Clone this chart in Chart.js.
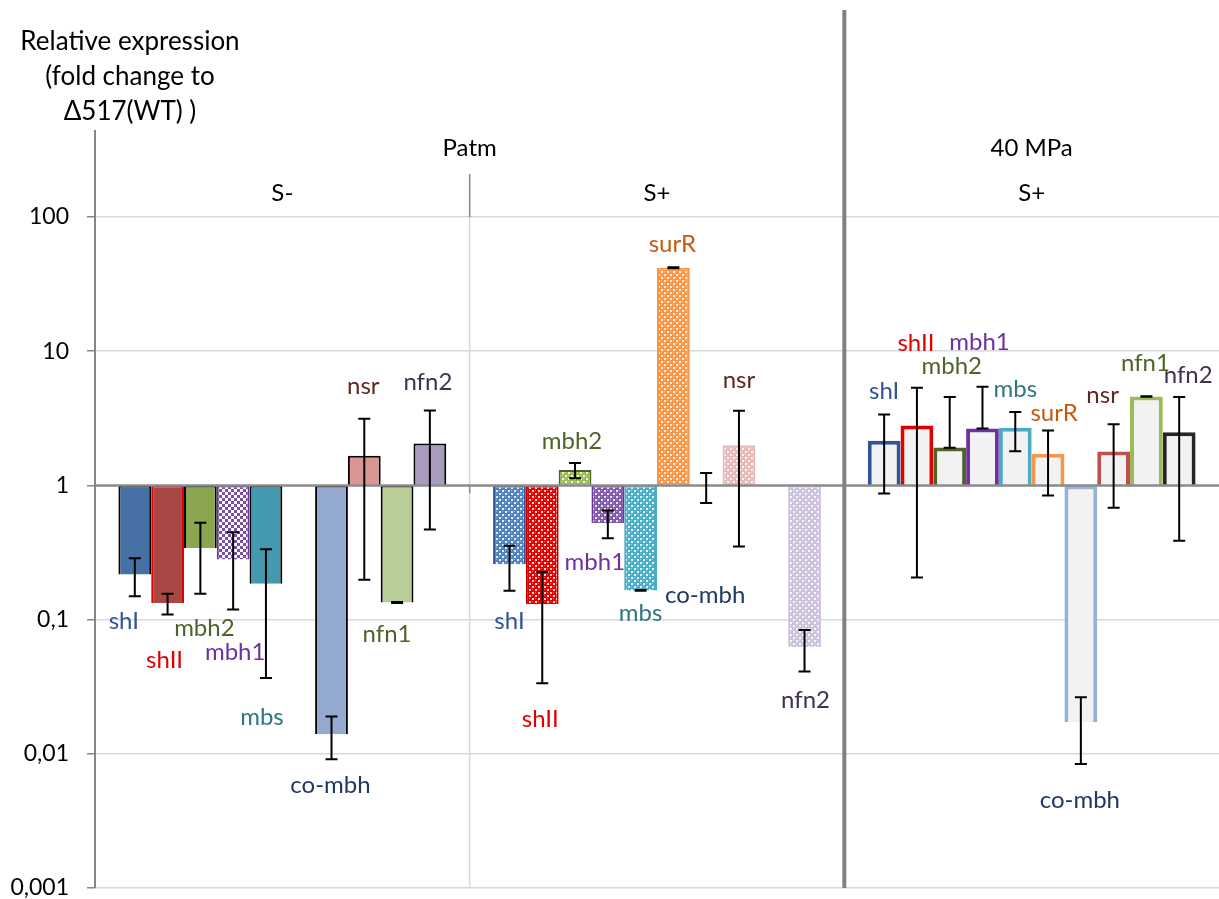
<!DOCTYPE html>
<html lang="en">
<head>
    <meta charset="UTF-8">
    <title>Relative expression</title>
    <script src="https://cdn.jsdelivr.net/npm/chart.js"></script>
    <style>
        body { margin: 0; background: #ffffff; }
        #wrap { width: 1219px; height: 899px; }
    </style>
</head>
<body>
    <div id="wrap"><canvas id="grafico" width="1219" height="899"></canvas></div>

    <script>
        // categories
        const genes = ['shI', 'shII', 'mbh2', 'mbh1', 'mbs', 'surR', 'co-mbh', 'nsr', 'nfn1', 'nfn2'];
        const groups = ['S-', 'S+', 'S+'];
        const pressures = ['Patm', '40 MPa'];
        const titleLines = ['Relative expression', '(fold change to', '\u0394517(WT) )'];

        // fold change values (one entry per gene)
        const patmSminus   = [0.217, 0.133, 0.341, 0.281, 0.185, null, 0.0140, 1.66, 0.134, 2.05];
        const patmSminusLo = [0.149, 0.109, 0.156, 0.119, 0.0367, null, 0.0091, 0.198, 0.133, 0.47];
        const patmSminusHi = [0.287, 0.156, 0.527, 0.447, 0.334, null, 0.019, 3.14, 0.135, 3.62];

        const patmSplus   = [0.259, 0.130, 1.30, 0.524, 0.165, 41.9, 1.0, 1.99, null, 0.0624];
        const patmSplusLo = [0.164, 0.0336, 1.13, 0.403, 0.164, 41.5, 0.738, 0.351, null, 0.0411];
        const patmSplusHi = [0.355, 0.226, 1.47, 0.651, 0.166, 42.3, 1.235, 3.60, null, 0.0835];

        const mpa40Splus   = [2.15, 2.79, 1.92, 2.66, 2.69, 1.72, 0.0172, 1.79, 4.60, 2.49];
        const mpa40SplusLo = [0.872, 0.206, 1.91, 2.65, 1.80, 0.842, 0.0084, 0.682, 4.58, 0.387];
        const mpa40SplusHi = [3.38, 5.35, 4.55, 5.44, 3.52, 2.56, 0.0264, 2.85, 4.62, 4.55];

        // y axis ticks
        const yTickValues = [100, 10, 1, 0.1, 0.01, 0.001];
        const yTickLabels = ['100', '10', '1', '0,1', '0,01', '0,001'];

        // styles
        const FONT = 'Lato, "Open Sans", sans-serif';
        const labelColors = ['#2f5597', '#e00000', '#4f6228', '#7030a0', '#2f7585', '#c55a11', '#1f3864', '#632523', '#4f6228', '#403152'];
        const sMinusFill = ['#4571a4', '#a94744', '#8aa64e', 'CHECK:#7a4fa8', '#4499ae', '#f79646', '#93a9d0', '#d99694', '#b9cd96', '#a99bbd'];
        const sMinusBorder = ['#000000', '#e00000', '#000000', '#7030a0', '#000000', '#000000', '#000000', '#000000', '#000000', '#000000'];
        const sPlusFill = ['#4f81bd', '#e00000', '#9bbb59', '#7f5aa8', '#4bacc6', '#f79646', '#95b3d7', '#e6b9b8', '#9bbb59', '#ccc1da'];
        const sPlusBorder = ['#2f5597', '#c00000', '#4f6228', '#7030a0', '#4bacc6', '#f79646', '#95b3d7', '#e6b9b8', '#9bbb59', '#ccc1da'];
        const mpaBorder = ['#2f5597', '#e00000', '#4f6228', '#7030a0', '#4bacc6', '#f79646', '#95b3d7', '#c0504d', '#9bbb59', '#262626'];

        // label nudges [dx, dy] from the error bar end, per group
        const labelNudge = [
            [[-11, 25], [-3, 46], [4, 35], [2, 43], [-4, 39], null, [-1, 26], [-1, -32], [-10, 31], [-2, -28]],
            [[0, 30], [-2, 36], [-3, -22], [-13, 24], [0, 22], [-1, -23], [-1, 92], [0, -30], null, [1, 29]],
            [[0, -23], [-1, -44], [2, -31], [-3, -44], [0, -23], [6, -17], [-1, 36], [-11, -29], [-1, -33], [9, -22]]
        ];

        function padrao(cor) {
            let c = document.createElement('canvas');
            c.width = 6; c.height = 6;
            let g = c.getContext('2d');
            g.fillStyle = cor; g.fillRect(0, 0, 6, 6);
            g.fillStyle = 'rgba(255,255,255,0.85)';
            g.fillRect(1, 1, 2, 2); g.fillRect(4, 4, 2, 2);
            g.fillStyle = 'rgba(255,255,255,0.45)';
            g.fillRect(4, 1, 1, 1); g.fillRect(1, 4, 1, 1);
            return g.createPattern(c, 'repeat');
        }

        function xadrez(cor) {
            let c = document.createElement('canvas');
            c.width = 6; c.height = 6;
            let g = c.getContext('2d');
            g.fillStyle = '#ffffff'; g.fillRect(0, 0, 6, 6);
            g.fillStyle = cor;
            g.fillRect(0, 0, 3, 3); g.fillRect(3, 3, 3, 3);
            return g.createPattern(c, 'repeat');
        }

        function fillSminus(i) {
            let f = sMinusFill[i];
            return f.startsWith('CHECK:') ? xadrez(f.slice(6)) : f;
        }

        const values = [patmSminus, patmSplus, mpa40Splus];
        const lows = [patmSminusLo, patmSplusLo, mpa40SplusLo];
        const highs = [patmSminusHi, patmSplusHi, mpa40SplusHi];

        let datasets = genes.map((gene, i) => ({
            label: gene,
            data: values.map(v => v[i] === null ? null : [1, v[i]]),
            backgroundColor: [fillSminus(i), padrao(sPlusFill[i]), '#f2f2f2'],
            borderColor: [sMinusBorder[i], sPlusBorder[i], mpaBorder[i]],
            borderWidth: [2, 2, 4],
            borderSkipped: 'start',
            categoryPercentage: 0.875,
            barPercentage: 1.0
        }));

        const decor = {
            id: 'decor',
            beforeDatasetsDraw(chart) {
                let ctx = chart.ctx, area = chart.chartArea, x = chart.scales.x;
                ctx.save();
                ctx.strokeStyle = '#d9d9d9';
                ctx.lineWidth = 1.5;
                for (let k = 0; k < groups.length - 1; k++) {
                    let b = (x.getPixelForValue(k) + x.getPixelForValue(k + 1)) / 2;
                    ctx.beginPath(); ctx.moveTo(b, area.top); ctx.lineTo(b, area.bottom); ctx.stroke();
                }
                ctx.restore();
            },
            afterDatasetsDraw(chart) {
                let ctx = chart.ctx, area = chart.chartArea, x = chart.scales.x, y = chart.scales.y;
                let y1 = y.getPixelForValue(1);
                let b1 = (x.getPixelForValue(0) + x.getPixelForValue(1)) / 2;
                let b2 = (x.getPixelForValue(1) + x.getPixelForValue(2)) / 2;
                ctx.save();

                // value axis crossing at 1
                ctx.strokeStyle = '#8c8c8c';
                ctx.lineWidth = 2.5;
                ctx.beginPath(); ctx.moveTo(area.left, y1); ctx.lineTo(area.right, y1); ctx.stroke();
                ctx.lineWidth = 1.5;
                ctx.beginPath(); ctx.moveTo(b1, y1); ctx.lineTo(b1, y1 + 8); ctx.stroke();

                // error bars
                ctx.strokeStyle = '#000000';
                ctx.lineWidth = 2;
                chart.data.datasets.forEach((ds, i) => {
                    let meta = chart.getDatasetMeta(i);
                    meta.data.forEach((bar, g) => {
                        if (lows[g][i] === null) return;
                        let yl = y.getPixelForValue(lows[g][i]);
                        let yh = y.getPixelForValue(highs[g][i]);
                        ctx.beginPath();
                        ctx.moveTo(bar.x, yl); ctx.lineTo(bar.x, yh);
                        ctx.moveTo(bar.x - 6, yl); ctx.lineTo(bar.x + 6, yl);
                        ctx.moveTo(bar.x - 6, yh); ctx.lineTo(bar.x + 6, yh);
                        ctx.stroke();
                    });
                });

                // gene labels
                ctx.font = '24px ' + FONT;
                ctx.textAlign = 'center';
                ctx.textBaseline = 'middle';
                chart.data.datasets.forEach((ds, i) => {
                    let meta = chart.getDatasetMeta(i);
                    meta.data.forEach((bar, g) => {
                        let v = values[g][i];
                        let n = labelNudge[g][i];
                        if (v === null || !n) return;
                        let fim = v > 1 ? Math.max(v, highs[g][i]) : Math.min(v, lows[g][i]);
                        ctx.fillStyle = labelColors[i];
                        ctx.fillText(genes[i], bar.x + n[0], y.getPixelForValue(fim) + n[1]);
                    });
                });

                // axis lines and separators
                ctx.strokeStyle = '#868686';
                ctx.lineWidth = 2;
                ctx.beginPath(); ctx.moveTo(area.left, 130); ctx.lineTo(area.left, area.bottom); ctx.stroke();
                ctx.lineWidth = 1.5;
                ctx.beginPath(); ctx.moveTo(b1, 174); ctx.lineTo(b1, area.top); ctx.stroke();
                ctx.strokeStyle = '#808080';
                ctx.lineWidth = 4;
                ctx.beginPath(); ctx.moveTo(b2, 10); ctx.lineTo(b2, area.bottom); ctx.stroke();

                // category headers
                ctx.fillStyle = '#000000';
                ctx.font = '24px ' + FONT;
                ctx.fillText(pressures[0], (area.left + b2) / 2, 148);
                ctx.fillText(pressures[1], (b2 + area.right) / 2, 148);
                groups.forEach((g, k) => ctx.fillText(g, x.getPixelForValue(k), 193));

                // value axis title
                ctx.font = '26px ' + FONT;
                titleLines.forEach((t, k) => ctx.fillText(t, 130, 42 + k * 35));
                ctx.restore();
            }
        };

        let ctx = document.getElementById('grafico').getContext('2d');
        let chart = new Chart(ctx, {
            type: 'bar',
            data: { labels: groups, datasets: datasets },
            options: {
                responsive: false,
                animation: false,
                layout: { padding: { top: 217, bottom: 11, left: 0, right: 0 } },
                plugins: { legend: { display: false }, tooltip: { enabled: false } },
                scales: {
                    x: { display: false, offset: true },
                    y: {
                        type: 'logarithmic',
                        min: 0.001,
                        max: 100,
                        afterFit: s => { s.width = 95; s.paddingTop = 0; s.paddingBottom = 0; },
                        afterBuildTicks: s => { s.ticks = yTickValues.map(v => ({ value: v })); },
                        border: { display: false },
                        grid: { color: '#d9d9d9', lineWidth: 1.5, tickColor: '#868686', tickLength: 8 },
                        ticks: {
                            padding: 18,
                            color: '#000000',
                            font: { family: FONT, size: 23 },
                            callback: (v) => {
                                let k = yTickValues.indexOf(v);
                                return k >= 0 ? yTickLabels[k] : '';
                            }
                        }
                    }
                }
            },
            plugins: [decor]
        });
    </script>
</body>
</html>
